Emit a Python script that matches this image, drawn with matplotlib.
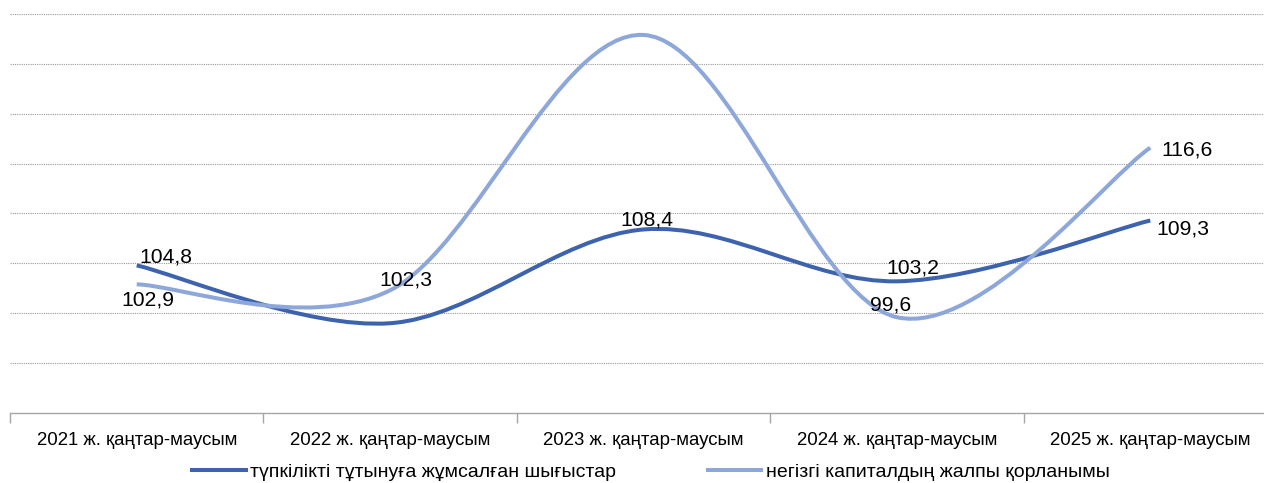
import numpy as np
import matplotlib.pyplot as plt
from matplotlib.path import Path
from matplotlib.patches import PathPatch
from matplotlib.lines import Line2D

plt.rcParams['font.family'] = ['Liberation Sans', 'DejaVu Sans']

# data
categories = ['2021 ж. қаңтар-маусым', '2022 ж. қаңтар-маусым', '2023 ж. қаңтар-маусым',
              '2024 ж. қаңтар-маусым', '2025 ж. қаңтар-маусым']
consumption = [104.8, 99.0, 108.4, 103.2, 109.3]
investment = [102.9, 102.3, 127.9, 99.6, 116.6]
series_names = ['түпкілікті тұтынуға жұмсалған шығыстар', 'негізгі капиталдың жалпы қорланымы']

# label offsets (pixels) for the values that carry a label; None = no label
cons_offsets = [(29, 8), None, (3, 9), (16, 13), (33, -9)]
inv_offsets = [(11, -16), (16, 10), None, (-6, 12), (37, -2)]

dark = '#3D63AE'
light = '#8EA7DA'


def smooth_path(xs, ys):
    # Excel-style smoothed line: cubic Bezier segments with Catmull-Rom tangents
    pts = np.column_stack([xs, ys]).astype(float)
    n = len(pts)
    verts = [pts[0]]
    codes = [Path.MOVETO]
    for i in range(n - 1):
        p0 = pts[max(i - 1, 0)]
        p1 = pts[i]
        p2 = pts[i + 1]
        p3 = pts[min(i + 2, n - 1)]
        c1 = p1 + (p2 - p0) / 6
        c2 = p2 - (p3 - p1) / 6
        verts += [c1, c2, p2]
        codes += [Path.CURVE4] * 3
    return Path(verts, codes)


fig = plt.figure(figsize=(12.64, 4.83), dpi=100)
ax = fig.add_axes([10 / 1264, 70 / 483, 1267 / 1264, 399 / 483])

x = np.arange(len(categories))
for vals, col in [(consumption, dark), (investment, light)]:
    ax.add_patch(PathPatch(smooth_path(x, vals), facecolor='none', edgecolor=col,
                           lw=2.9, capstyle='butt', zorder=3))

for vals, offs in [(consumption, cons_offsets), (investment, inv_offsets)]:
    for xi, v, off in zip(x, vals, offs):
        if off is None:
            continue
        ax.annotate(f'{v:.1f}'.replace('.', ','), (xi, v), xytext=off,
                    textcoords='offset pixels', ha='center', va='center',
                    fontsize=15.2, color='#000000', zorder=4)

ax.set_xlim(-0.5, len(categories) - 0.5)
ax.set_ylim(90, 130)
ax.set_yticks(np.arange(95, 131, 5))
ax.yaxis.grid(True, linestyle=(0, (1, 1)), color='#9A9A9A', lw=0.8)
ax.tick_params(axis='y', left=False, labelleft=False)

ax.set_xticks(x)
ax.set_xticklabels(categories, fontsize=13.4)
ax.set_xticks(np.arange(-0.5, len(categories), 1), minor=True)
ax.tick_params(axis='x', which='major', length=0, pad=14)
ax.tick_params(axis='x', which='minor', length=7, width=1, color='#A6A6A6')

for s in ['top', 'right', 'left']:
    ax.spines[s].set_visible(False)
ax.spines['bottom'].set_color('#A6A6A6')
ax.spines['bottom'].set_linewidth(1)

handles = [Line2D([], [], color=dark, lw=2.9), Line2D([], [], color=light, lw=2.9)]
fig.legend(handles, series_names, loc='center', bbox_to_anchor=(651 / 1264, 1 - 472 / 483),
           ncol=2, frameon=False, fontsize=14, handlelength=2.73, handletextpad=0.25,
           columnspacing=4.7)

fig.savefig('out.png', dpi=100)
